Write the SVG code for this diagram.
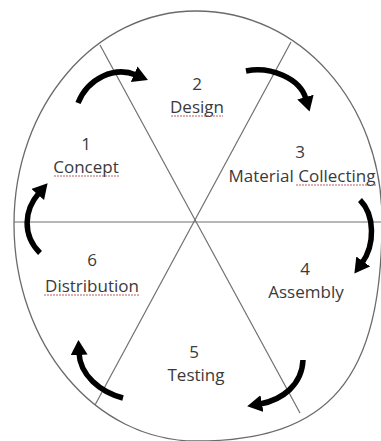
<svg xmlns="http://www.w3.org/2000/svg" width="381" height="441" viewBox="0 0 381 441">
  <style>
    .frame { fill: none; stroke: #6a6a6a; stroke-width: 1.3; }
    .div { stroke: #707070; stroke-width: 1.2; fill: none; }
    .lbl { font-family: "Open Sans", "Liberation Sans", sans-serif; font-size: 17px; fill: #3a3a3a; text-anchor: middle; }
    .ul { stroke: #b86060; stroke-width: 1.2; stroke-dasharray: 2 1; fill: none; }
    .arr { fill: none; stroke: #000; stroke-width: 5.5; stroke-linecap: butt; marker-end: url(#head); }
  </style>
  <defs>
    <marker id="head" markerUnits="userSpaceOnUse" markerWidth="20" markerHeight="20" refX="2" refY="8.5" orient="auto">
      <path d="M0,0 L15,8.5 L0,17 z" fill="#000"/>
    </marker>
  </defs>
  <rect width="381" height="441" fill="#fff"/>
  <g id="wheel">
    <path class="frame" d="M14,224 C14,106 95,11 196,11 C300,11 382,103 382,220 C382,379 330,441 196,441 C95,441 14,344 14,224 Z"/>
    <line class="div" x1="14" y1="222" x2="381" y2="222"/>
    <line class="div" x1="100" y1="45" x2="300" y2="413"/>
    <line class="div" x1="291" y1="42" x2="95" y2="405"/>
  </g>
  <g id="connectors">
    <path class="arr" d="M78,103 C88,78 115,66 136,75"/>
    <path class="arr" d="M246,71 C270,66 300,78 306,99"/>
    <path class="arr" d="M360,200 C375,215 375,245 362,263"/>
    <path class="arr" d="M303,360 C302,385 282,400 260,404"/>
    <path class="arr" d="M123,398 C100,392 80,375 79,353"/>
    <path class="arr" d="M40,253 C22,235 24,210 39,193"/>
  </g>
  <g id="stage1">
    <text class="lbl" x="86" y="150">1</text>
    <text class="lbl" x="86" y="173">Concept</text>
    <line class="ul" x1="54" y1="176" x2="119" y2="176"/>
  </g>
  <g id="stage2">
    <text class="lbl" x="197" y="90">2</text>
    <text class="lbl" x="197" y="113">Design</text>
    <line class="ul" x1="171" y1="116" x2="223" y2="116"/>
  </g>
  <g id="stage3">
    <text class="lbl" x="300" y="158">3</text>
    <text class="lbl" x="302" y="182">Material Collecting</text>
    <line class="ul" x1="296" y1="185" x2="377" y2="185"/>
  </g>
  <g id="stage4">
    <text class="lbl" x="305" y="275">4</text>
    <text class="lbl" x="306" y="298">Assembly</text>
  </g>
  <g id="stage5">
    <text class="lbl" x="194" y="358">5</text>
    <text class="lbl" x="196" y="381">Testing</text>
  </g>
  <g id="stage6">
    <text class="lbl" x="92" y="266">6</text>
    <text class="lbl" x="92" y="292">Distribution</text>
    <line class="ul" x1="44" y1="295" x2="140" y2="295"/>
  </g>
</svg>
